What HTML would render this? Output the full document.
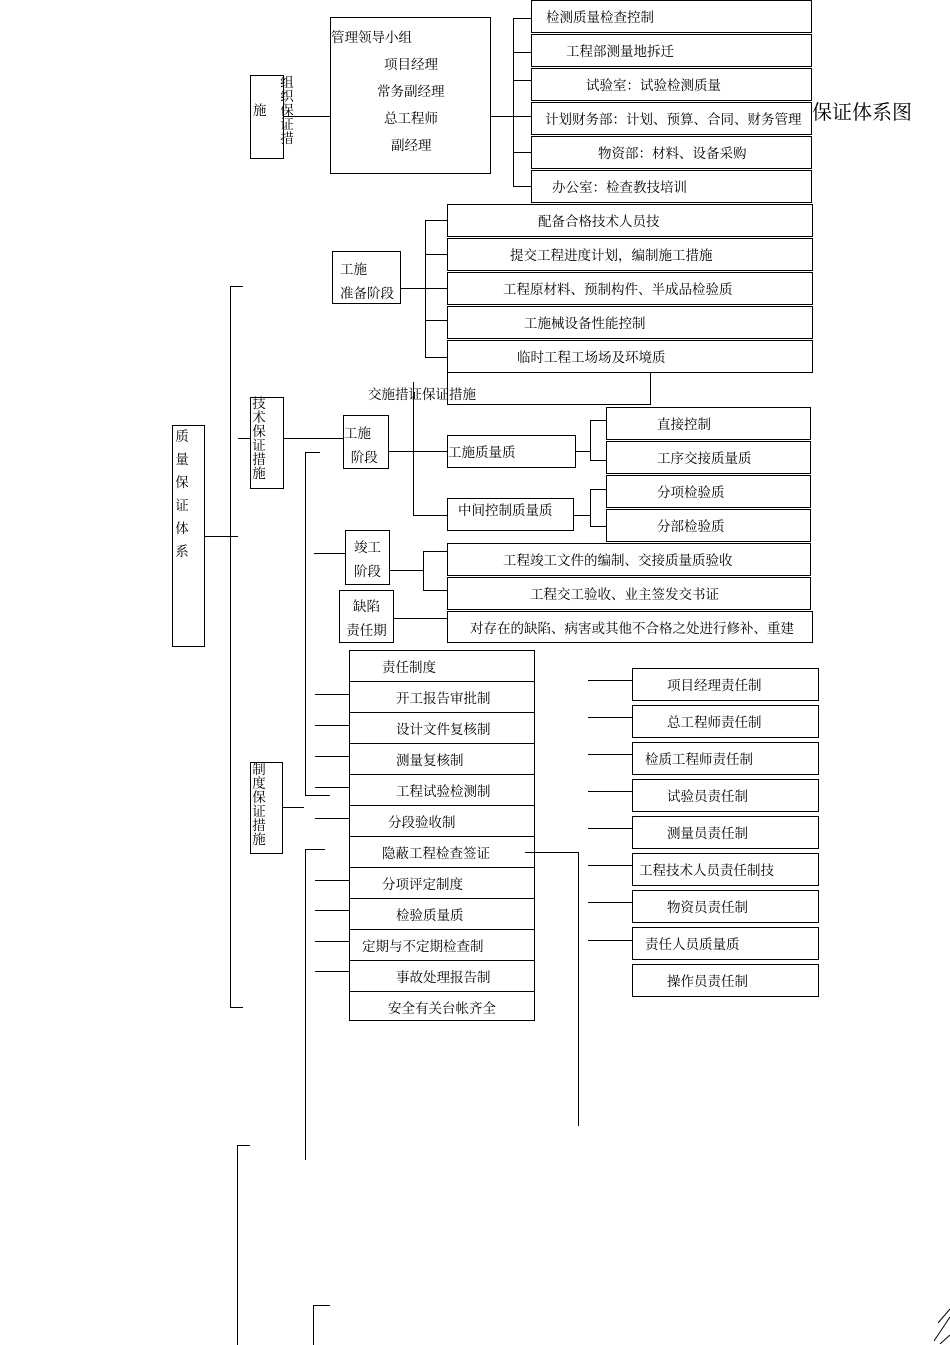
<!DOCTYPE html>
<html><head><meta charset="utf-8"><style>
body{margin:0;width:950px;height:1344px;background:#fff;position:relative;overflow:hidden;font-family:"Liberation Serif","Noto Serif CJK SC",serif;font-size:13.5px;color:#000}
.b{position:absolute;border:1.3px solid #000;box-sizing:border-box;background:#fff;white-space:nowrap;line-height:34px;text-align:center;overflow:hidden}
.h{position:absolute;height:0;border-top:1.3px solid #000}
.v{position:absolute;width:0;border-left:1.3px solid #000}
.t{position:absolute;white-space:nowrap}
.vt{position:absolute;width:16px;line-height:14px;font-size:13.5px;text-align:center}
</style></head><body>
<div class="t" style="left:812px;top:96px;font-size:20px">保证体系图</div>

<!-- top group -->
<div class="b" style="left:531px;top:0;width:281px;height:33px;text-align:left;padding-left:14px">检测质量检查控制</div>
<div class="b" style="left:531px;top:34px;width:281px;height:33px;text-align:left;padding-left:34px">工程部测量地拆迁</div>
<div class="b" style="left:531px;top:68px;width:281px;height:33px;text-align:left;padding-left:54px">试验室：试验检测质量</div>
<div class="b" style="left:531px;top:102px;width:281px;height:33px;text-align:left;padding-left:13px">计划财务部：计划、预算、合同、财务管理</div>
<div class="b" style="left:531px;top:136px;width:281px;height:33px;text-align:left;padding-left:66px">物资部：材料、设备采购</div>
<div class="b" style="left:531px;top:170px;width:281px;height:33px;text-align:left;padding-left:20px">办公室：检查教技培训</div>
<div class="v" style="left:513px;top:18px;height:168px"></div>
<div class="h" style="left:513px;top:18px;width:18px"></div><div class="h" style="left:513px;top:52px;width:18px"></div><div class="h" style="left:513px;top:80px;width:18px"></div><div class="h" style="left:513px;top:152px;width:18px"></div><div class="h" style="left:513px;top:186px;width:18px"></div>
<div class="h" style="left:490px;top:116px;width:41px"></div>
<div class="b" style="left:330px;top:17px;width:161px;height:157px;line-height:27px;text-align:left">
<div style="margin-top:6px">管理领导小组</div><div style="padding-left:53px">项目经理</div><div style="padding-left:46px">常务副经理</div><div style="padding-left:53px">总工程师</div><div style="padding-left:60px">副经理</div></div>
<div class="h" style="left:283px;top:116px;width:47px"></div>
<div class="b" style="left:250px;top:75px;width:34px;height:84px;line-height:70px;text-align:left;padding-left:2px">施</div>
<div class="vt" style="left:279px;top:76px">组<br>织<br>保<br>证<br>措</div>

<!-- prep stage -->
<div class="b" style="left:447px;top:204px;width:366px;height:33px;text-align:left;padding-left:90px">配备合格技术人员技</div>
<div class="b" style="left:447px;top:238px;width:366px;height:33px;text-align:left;padding-left:62px">提交工程进度计划，编制施工措施</div>
<div class="b" style="left:447px;top:272px;width:366px;height:33px;text-align:left;padding-left:55px">工程原材料、预制构件、半成品检验质</div>
<div class="b" style="left:447px;top:306px;width:366px;height:33px;text-align:left;padding-left:76px">工施械设备性能控制</div>
<div class="b" style="left:447px;top:340px;width:366px;height:33px;text-align:left;padding-left:69px">临时工程工场场及环境质</div>
<div class="v" style="left:425px;top:220px;height:137px"></div>
<div class="h" style="left:425px;top:220px;width:22px"></div><div class="h" style="left:425px;top:254px;width:22px"></div><div class="h" style="left:425px;top:288px;width:22px"></div><div class="h" style="left:425px;top:320px;width:22px"></div><div class="h" style="left:425px;top:357px;width:22px"></div>
<div class="h" style="left:400px;top:288px;width:25px"></div>
<div class="b" style="left:332px;top:251px;width:69px;height:53px;line-height:24px;text-align:left;padding:6px 0 0 7px">工施<br>准备阶段</div>

<!-- construction stage -->
<div class="b" style="left:447px;top:372px;width:204px;height:33px"></div>
<div class="t" style="left:368px;top:383px">交施措证保证措施</div>
<div class="v" style="left:413px;top:382px;height:134px"></div>
<div class="h" style="left:413px;top:515px;width:34px"></div>
<div class="b" style="left:250px;top:397px;width:34px;height:92px"></div>
<div class="vt" style="left:251px;top:397px">技<br>术<br>保<br>证<br>措<br>施</div>
<div class="b" style="left:172px;top:425px;width:33px;height:222px"></div>
<div class="vt" style="left:174px;top:425px;line-height:23px">质<br>量<br>保<br>证<br>体<br>系</div>
<div class="h" style="left:204px;top:536px;width:34px"></div>
<div class="v" style="left:230px;top:286px;height:721px"></div>
<div class="h" style="left:230px;top:286px;width:13px"></div><div class="h" style="left:230px;top:1007px;width:13px"></div>
<div class="h" style="left:238px;top:438px;width:12px"></div>
<div class="h" style="left:283px;top:438px;width:60px"></div>
<div class="b" style="left:343px;top:415px;width:46px;height:54px;line-height:24px;text-align:left;padding-top:6px">工施<br>&nbsp;&nbsp;阶段</div>
<div class="h" style="left:388px;top:451px;width:59px"></div>
<div class="b" style="left:447px;top:435px;width:129px;height:33px;text-align:left">工施质量质</div>
<div class="b" style="left:447px;top:498px;width:127px;height:33px;text-align:left;padding-left:10px;line-height:24px">中间控制质量质</div>
<div class="h" style="left:575px;top:451px;width:15px"></div><div class="v" style="left:590px;top:420px;height:40px"></div>
<div class="h" style="left:590px;top:420px;width:16px"></div><div class="h" style="left:590px;top:460px;width:16px"></div>
<div class="h" style="left:573px;top:515px;width:17px"></div><div class="v" style="left:590px;top:489px;height:37px"></div>
<div class="h" style="left:590px;top:489px;width:16px"></div><div class="h" style="left:590px;top:526px;width:16px"></div>
<div class="b" style="left:606px;top:407px;width:205px;height:33px;text-align:left;padding-left:50px">直接控制</div>
<div class="b" style="left:606px;top:441px;width:205px;height:33px;text-align:left;padding-left:50px">工序交接质量质</div>
<div class="b" style="left:606px;top:475px;width:205px;height:33px;text-align:left;padding-left:50px">分项检验质</div>
<div class="b" style="left:606px;top:509px;width:205px;height:33px;text-align:left;padding-left:50px">分部检验质</div>
<div class="v" style="left:305px;top:452px;height:344px"></div><div class="h" style="left:305px;top:452px;width:15px"></div>
<div class="h" style="left:305px;top:795px;width:25px"></div>
<div class="v" style="left:305px;top:849px;height:311px"></div><div class="h" style="left:305px;top:849px;width:20px"></div>

<!-- completion -->
<div class="h" style="left:314px;top:553px;width:31px"></div>
<div class="b" style="left:345px;top:530px;width:45px;height:55px;line-height:24px;padding-top:5px">竣工<br>阶段</div>
<div class="h" style="left:389px;top:570px;width:34px"></div><div class="v" style="left:423px;top:551px;height:39px"></div>
<div class="h" style="left:423px;top:551px;width:24px"></div><div class="h" style="left:423px;top:590px;width:24px"></div>
<div class="b" style="left:447px;top:543px;width:364px;height:33px;text-align:left;padding-left:55px">工程竣工文件的编制、交接质量质验收</div>
<div class="b" style="left:447px;top:577px;width:364px;height:33px;text-align:left;padding-left:82px">工程交工验收、业主签发交书证</div>
<div class="b" style="left:339px;top:590px;width:55px;height:53px;line-height:24px;padding-top:4px">缺陷<br>责任期</div>
<div class="h" style="left:393px;top:618px;width:54px"></div>
<div class="b" style="left:447px;top:611px;width:366px;height:32px;text-align:left;padding-left:22px">对存在的缺陷、病害或其他不合格之处进行修补、重建</div>

<!-- system column -->
<div class="b" style="left:349px;top:650px;width:186px;height:32px;text-align:left;padding-left:32px">责任制度</div>
<div class="b" style="left:349px;top:681px;width:186px;height:32px;text-align:left;padding-left:46px">开工报告审批制</div>
<div class="b" style="left:349px;top:712px;width:186px;height:32px;text-align:left;padding-left:46px">设计文件复核制</div>
<div class="b" style="left:349px;top:743px;width:186px;height:32px;text-align:left;padding-left:46px">测量复核制</div>
<div class="b" style="left:349px;top:774px;width:186px;height:32px;text-align:left;padding-left:46px">工程试验检测制</div>
<div class="b" style="left:349px;top:805px;width:186px;height:32px;text-align:left;padding-left:38px">分段验收制</div>
<div class="b" style="left:349px;top:836px;width:186px;height:32px;text-align:left;padding-left:32px">隐蔽工程检查签证</div>
<div class="b" style="left:349px;top:867px;width:186px;height:32px;text-align:left;padding-left:32px">分项评定制度</div>
<div class="b" style="left:349px;top:898px;width:186px;height:32px;text-align:left;padding-left:46px">检验质量质</div>
<div class="b" style="left:349px;top:929px;width:186px;height:32px;text-align:left;padding-left:12px">定期与不定期检查制</div>
<div class="b" style="left:349px;top:960px;width:186px;height:32px;text-align:left;padding-left:46px">事故处理报告制</div>
<div class="b" style="left:349px;top:991px;width:186px;height:30px;text-align:left;padding-left:38px">安全有关台帐齐全</div>
<div class="h" style="left:315px;top:694px;width:34px"></div><div class="h" style="left:315px;top:725px;width:34px"></div><div class="h" style="left:315px;top:756px;width:34px"></div><div class="h" style="left:315px;top:787px;width:34px"></div><div class="h" style="left:315px;top:818px;width:34px"></div><div class="h" style="left:315px;top:880px;width:34px"></div><div class="h" style="left:315px;top:910px;width:34px"></div><div class="h" style="left:315px;top:941px;width:34px"></div><div class="h" style="left:315px;top:971px;width:34px"></div>
<div class="h" style="left:282px;top:807px;width:22px"></div>
<div class="b" style="left:250px;top:762px;width:33px;height:92px"></div>
<div class="vt" style="left:251px;top:763px">制<br>度<br>保<br>证<br>措<br>施</div>
<div class="h" style="left:525px;top:852px;width:53px"></div><div class="v" style="left:578px;top:852px;height:274px"></div>

<!-- right column -->
<div class="b" style="left:632px;top:668px;width:187px;height:33px;text-align:left;padding-left:34px">项目经理责任制</div>
<div class="b" style="left:632px;top:705px;width:187px;height:33px;text-align:left;padding-left:34px">总工程师责任制</div>
<div class="b" style="left:632px;top:742px;width:187px;height:33px;text-align:left;padding-left:12px">检质工程师责任制</div>
<div class="b" style="left:632px;top:779px;width:187px;height:33px;text-align:left;padding-left:34px">试验员责任制</div>
<div class="b" style="left:632px;top:816px;width:187px;height:33px;text-align:left;padding-left:34px">测量员责任制</div>
<div class="b" style="left:632px;top:853px;width:187px;height:33px;text-align:left;padding-left:6px">工程技术人员责任制技</div>
<div class="b" style="left:632px;top:890px;width:187px;height:33px;text-align:left;padding-left:34px">物资员责任制</div>
<div class="b" style="left:632px;top:927px;width:187px;height:33px;text-align:left;padding-left:12px">责任人员质量质</div>
<div class="b" style="left:632px;top:964px;width:187px;height:33px;text-align:left;padding-left:34px">操作员责任制</div>
<div class="h" style="left:588px;top:680px;width:44px"></div><div class="h" style="left:588px;top:717px;width:44px"></div><div class="h" style="left:588px;top:754px;width:44px"></div><div class="h" style="left:588px;top:791px;width:44px"></div><div class="h" style="left:588px;top:828px;width:44px"></div><div class="h" style="left:588px;top:865px;width:44px"></div><div class="h" style="left:588px;top:902px;width:44px"></div><div class="h" style="left:588px;top:940px;width:44px"></div>

<!-- bottom -->
<div class="v" style="left:237px;top:1145px;height:200px"></div><div class="h" style="left:237px;top:1145px;width:13px"></div>
<div class="v" style="left:313px;top:1305px;height:40px"></div><div class="h" style="left:313px;top:1305px;width:17px"></div>
<svg style="position:absolute;left:930px;top:1305px" width="20" height="39"><path d="M20 4 L8 18 M20 12 L4 36 M20 30 L10 39" stroke="#000" stroke-width="1" fill="none"/></svg>
</body></html>
